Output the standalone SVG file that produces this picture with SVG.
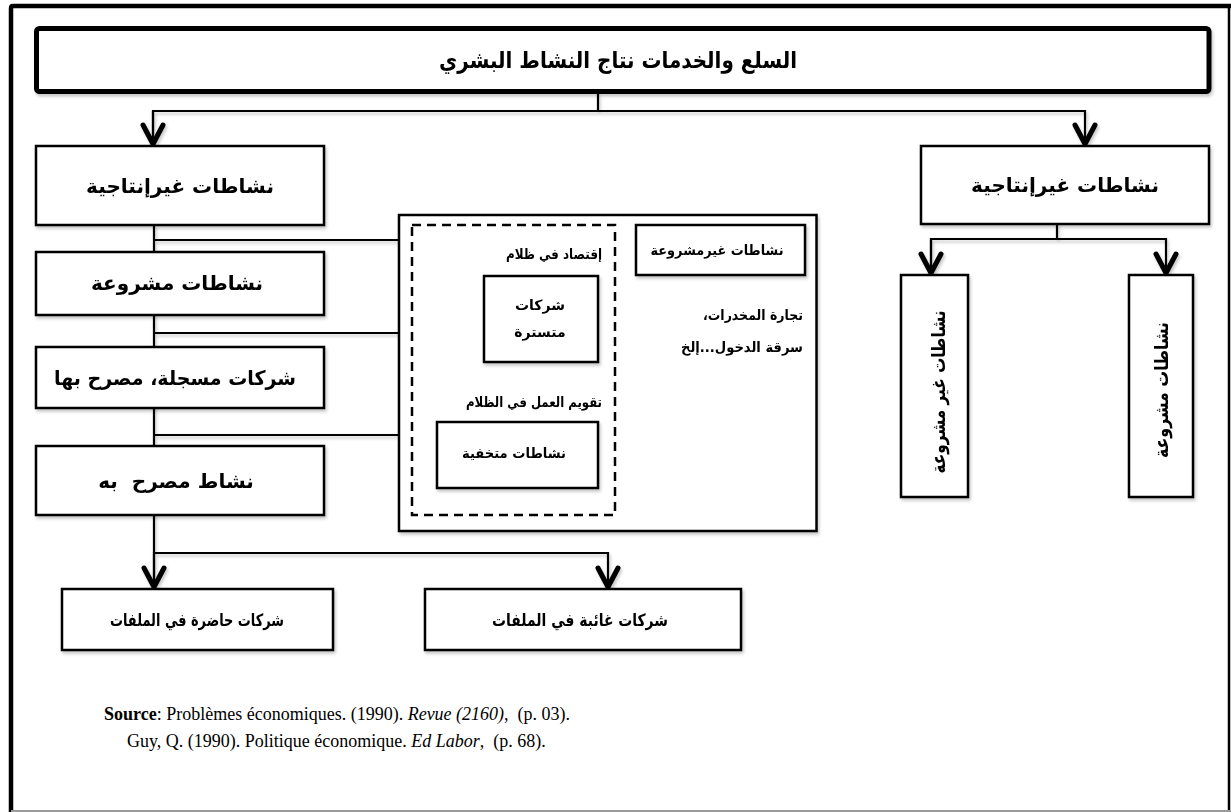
<svg xmlns="http://www.w3.org/2000/svg" width="1231" height="812" viewBox="0 0 1231 812">
  <defs>
    <style>
      .box { fill: #ffffff; stroke: #000000; stroke-width: 2.5; }
      .dash { fill: none; stroke: #000000; stroke-width: 2.5; stroke-dasharray: 9 6; }
      .wire { fill: none; stroke: #000000; stroke-width: 2.2; }
      .ar { font-family: "DejaVu Sans", "Noto Sans", sans-serif; fill: #000000; }
      .big { font-size: 20px; font-weight: bold; }
      .title { font-size: 23px; font-weight: bold; }
      .mid { font-size: 14px; font-weight: bold; }
      .vert { font-size: 19px; font-weight: bold; }
      .src { font-family: "Liberation Serif", "Times New Roman", serif; font-size: 18px; fill: #000000; }
    </style>
    <filter id="soft" x="-5%" y="-5%" width="115%" height="130%">
      <feDropShadow dx="1.5" dy="2.5" stdDeviation="1.6" flood-color="#000000" flood-opacity="0.22"/>
    </filter>
    <marker id="chev" markerUnits="userSpaceOnUse" viewBox="-26 -15 30 30" refX="0" refY="0" markerWidth="30" markerHeight="30" orient="auto">
      <polyline points="-19,-10 0,0 -19,10" fill="none" stroke="#000000" stroke-width="5" stroke-linecap="round" stroke-linejoin="round"/>
    </marker>
  </defs>

  <!-- page frame -->
  <g id="frame">
    <path d="M11,812 V8 Q11,6 13,6 H1231" fill="none" stroke="#000000" stroke-width="4.5"/>
    <line x1="1229" y1="6" x2="1229" y2="812" stroke="#000000" stroke-width="2.5"/>
    <line x1="11" y1="811" x2="1231" y2="811" stroke="#9a9a9a" stroke-width="2"/>
  </g>

  <!-- connectors -->
  <g id="connectors" filter="url(#soft)">
    <line class="wire" x1="598" y1="93" x2="598" y2="111"/>
    <polyline class="wire" points="153,144 153,111 1085,111 1085,144" marker-end="url(#chev)"/>
    <line class="wire" x1="153" y1="111" x2="153" y2="144" marker-end="url(#chev)"/>

    <line class="wire" x1="1057" y1="224" x2="1057" y2="239"/>
    <polyline class="wire" points="931,273 931,239 1166,239 1166,273" marker-end="url(#chev)"/>
    <line class="wire" x1="931" y1="239" x2="931" y2="273" marker-end="url(#chev)"/>

    <line class="wire" x1="154" y1="225" x2="154" y2="553"/>
    <line class="wire" x1="154" y1="240" x2="399" y2="240"/>
    <line class="wire" x1="154" y1="333" x2="482" y2="333" marker-end="url(#chev)"/>
    <line class="wire" x1="154" y1="435" x2="435" y2="435" marker-end="url(#chev)"/>

    <polyline class="wire" points="154,587 154,553 608,553 608,587" marker-end="url(#chev)"/>
    <line class="wire" x1="154" y1="553" x2="154" y2="587" marker-end="url(#chev)"/>
  </g>

  <!-- top node -->
  <g id="n-top" filter="url(#soft)">
    <rect x="36.5" y="28.5" width="1172.5" height="63" rx="3" fill="#ffffff" stroke="#000000" stroke-width="5"/>
    <text class="ar title" x="618" y="68" text-anchor="middle" textLength="358" lengthAdjust="spacingAndGlyphs">السلع والخدمات نتاج النشاط البشري</text>
  </g>

  <!-- left column -->
  <g id="n-left-nonprod" filter="url(#soft)">
    <rect class="box" x="36" y="146" width="288" height="79"/>
    <text class="ar big" x="180" y="193" text-anchor="middle">نشاطات غيرإنتاجية</text>
  </g>
  <g id="n-legal" filter="url(#soft)">
    <rect class="box" x="36" y="252" width="288" height="63"/>
    <text class="ar big" x="177" y="290" text-anchor="middle">نشاطات مشروعة</text>
  </g>
  <g id="n-registered" filter="url(#soft)">
    <rect class="box" x="36" y="347" width="288" height="61"/>
    <text class="ar big" x="175" y="385" text-anchor="middle" textLength="242" lengthAdjust="spacingAndGlyphs">شركات مسجلة، مصرح بها</text>
  </g>
  <g id="n-declared" filter="url(#soft)">
    <rect class="box" x="36" y="446" width="288" height="69"/>
    <text class="ar big" x="176" y="488" text-anchor="middle">نشاط مصرح&#160; به</text>
  </g>

  <!-- shadow economy block -->
  <g id="n-shadow" filter="url(#soft)">
    <rect class="box" x="399" y="215" width="417.5" height="316"/>
    <rect class="dash" x="412" y="225" width="203" height="290"/>
    <text class="ar mid" x="602" y="259" text-anchor="end" textLength="96" lengthAdjust="spacingAndGlyphs">إقتصاد في ظلام</text>
    <text class="ar mid" x="602" y="407" text-anchor="end" textLength="136" lengthAdjust="spacingAndGlyphs">تقويم العمل في الظلام</text>
    <text class="ar mid" x="803" y="320" text-anchor="end" textLength="100" lengthAdjust="spacingAndGlyphs">تجارة المخدرات،&#x200F;</text>
    <text class="ar mid" x="803" y="352" text-anchor="end" textLength="122" lengthAdjust="spacingAndGlyphs">سرقة الدخول...إلخ</text>
  </g>
  <g id="n-illegal-mid" filter="url(#soft)">
    <rect class="box" x="636" y="225" width="169" height="50"/>
    <text class="ar mid" x="717" y="255" text-anchor="middle" textLength="133" lengthAdjust="spacingAndGlyphs">نشاطات غيرمشروعة</text>
  </g>
  <g id="n-hidden-firms" filter="url(#soft)">
    <rect class="box" x="484" y="276" width="114" height="86"/>
    <text class="ar mid" x="540" y="310" text-anchor="middle">شركات</text>
    <text class="ar mid" x="540" y="337" text-anchor="middle">متسترة</text>
  </g>
  <g id="n-hidden-acts" filter="url(#soft)">
    <rect class="box" x="437" y="422" width="161" height="66"/>
    <text class="ar mid" x="514" y="458" text-anchor="middle" textLength="104" lengthAdjust="spacingAndGlyphs">نشاطات متخفية</text>
  </g>

  <!-- bottom nodes -->
  <g id="n-present" filter="url(#soft)">
    <rect class="box" x="62" y="589" width="271" height="61"/>
    <text class="ar mid" x="197" y="626" text-anchor="middle" style="font-size:17px" textLength="174" lengthAdjust="spacingAndGlyphs">شركات حاضرة في الملفات</text>
  </g>
  <g id="n-absent" filter="url(#soft)">
    <rect class="box" x="425" y="589" width="316" height="61"/>
    <text class="ar mid" x="580" y="626" text-anchor="middle" style="font-size:17px" textLength="176" lengthAdjust="spacingAndGlyphs">شركات غائبة في الملفات</text>
  </g>

  <!-- right column -->
  <g id="n-right-nonprod" filter="url(#soft)">
    <rect class="box" x="921" y="146" width="288" height="78"/>
    <text class="ar big" x="1065" y="192" text-anchor="middle">نشاطات غيرإنتاجية</text>
  </g>
  <g id="n-right-illegal" filter="url(#soft)">
    <rect class="box" x="901" y="275" width="67" height="222"/>
    <text class="ar vert" x="945" y="392" text-anchor="middle" transform="rotate(-90 945 392)" textLength="163" lengthAdjust="spacingAndGlyphs">نشاطات غير مشروعة</text>
  </g>
  <g id="n-right-legal" filter="url(#soft)">
    <rect class="box" x="1129" y="275" width="64" height="222"/>
    <text class="ar vert" x="1168" y="390" text-anchor="middle" transform="rotate(-90 1168 390)" textLength="136" lengthAdjust="spacingAndGlyphs">نشاطات مشروعة</text>
  </g>

  <!-- source note -->
  <g id="source">
    <text class="src" x="104" y="720"><tspan font-weight="bold">Source</tspan>: Problèmes économiques. (1990). <tspan font-style="italic">Revue (2160)</tspan>, &#160;(p. 03).</text>
    <text class="src" x="127" y="747">Guy, Q. (1990). Politique économique. <tspan font-style="italic">Ed Labor</tspan>, &#160;(p. 68).</text>
  </g>
</svg>
